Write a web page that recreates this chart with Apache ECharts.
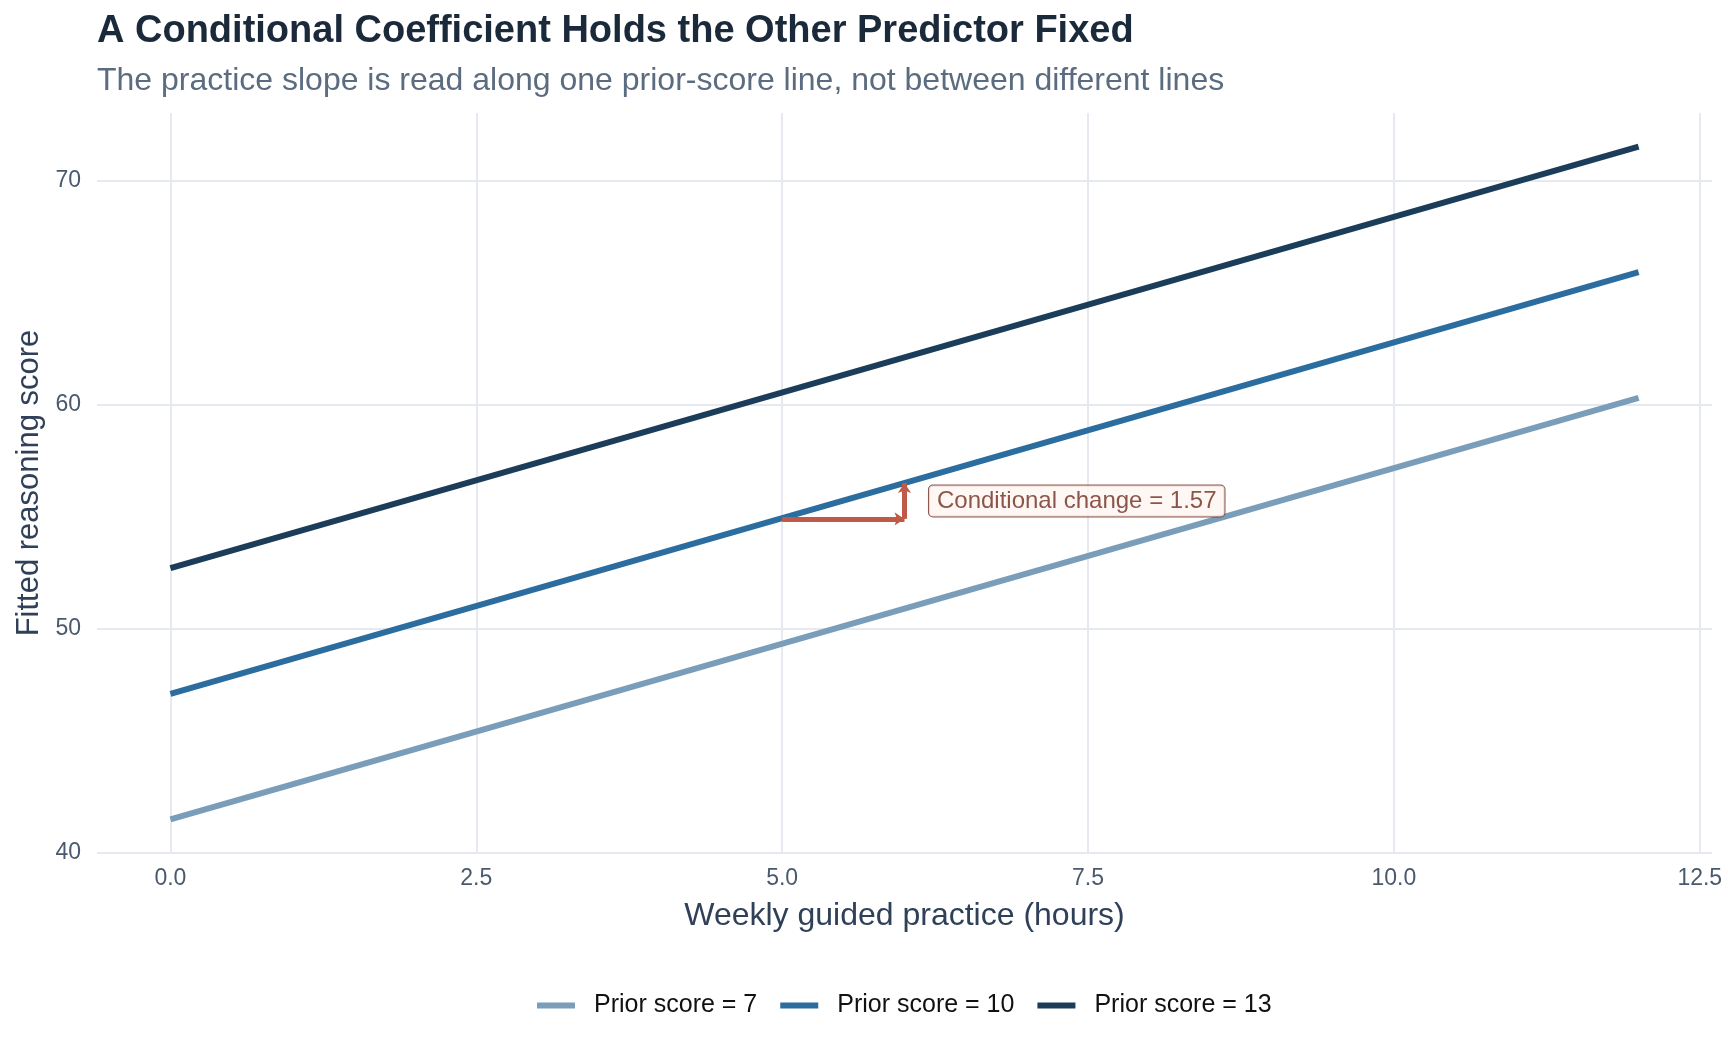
<!DOCTYPE html>
<html>
<head>
<meta charset="utf-8">
<title>Conditional coefficient</title>
<script src="https://cdn.jsdelivr.net/npm/echarts@6/dist/echarts.min.js"></script>
<style>
  html, body { margin: 0; padding: 0; background: #fff; }
  #chart { width: 1728px; height: 1056px; }
</style>
</head>
<body>
<div id="chart"></div>
<script>
// fitted lines at practice = 0 and 12 hours
var practiceHours = [0, 12];
var priorLabels = ['Prior score = 7', 'Prior score = 10', 'Prior score = 13'];
var fitPrior7 = [41.5, 60.3];
var fitPrior10 = [47.1, 65.9];
var fitPrior13 = [52.7, 71.5];
var lineColors = ['#7a9eb9', '#2c6d9f', '#1b3d5a'];

// tick labels
var xTicks = [0, 2.5, 5, 7.5, 10, 12.5];
var yTicks = [40, 50, 60, 70];

// the conditional change annotation (one hour more, along prior = 10)
var stepX = [5, 6];
var stepY = [54.9, 56.5];
var annotText = 'Conditional change = 1.57';
var annotAt = [6.2, 55.7];

var font = '"Liberation Sans", Arial, Helvetica, sans-serif';

function pairs(xs, ys) {
  return xs.map(function (x, i) { return [x, ys[i]]; });
}

var fits = [fitPrior7, fitPrior10, fitPrior13];
var series = fits.map(function (vals, i) {
  return {
    name: priorLabels[i],
    type: 'line',
    data: pairs(practiceHours, vals),
    showSymbol: false,
    lineStyle: { color: lineColors[i], width: 6, cap: 'butt' },
    itemStyle: { color: lineColors[i] },
    z: 2
  };
});

// arrows: horizontal step then vertical rise
series.push({
  name: 'step',
  type: 'line',
  data: [],
  markLine: {
    silent: true,
    symbol: ['none', 'arrow'],
    symbolSize: [10, 10],
    label: { show: false },
    lineStyle: { color: '#c05a48', width: 5, type: 'solid' },
    data: [
      [{ coord: [stepX[0], stepY[0]] }, { coord: [stepX[1], stepY[0]] }],
      [{ coord: [stepX[1], stepY[0]] }, { coord: [stepX[1], stepY[1]] }]
    ]
  },
  z: 5
});

series.push({
  name: 'note',
  type: 'scatter',
  data: [annotAt],
  symbolSize: 0,
  silent: true,
  label: {
    show: true,
    position: 'right',
    distance: 0,
    formatter: annotText,
    fontFamily: font,
    fontSize: 24,
    color: '#6e2c1f',
    backgroundColor: '#fff5f1',
    borderColor: '#6e2c1f',
    borderWidth: 1,
    borderRadius: 4,
    padding: [4, 8, 3, 8]
  },
  z: 6
});

var chart = echarts.init(document.getElementById('chart'));
chart.setOption({
  animation: false,
  backgroundColor: '#ffffff',
  title: [
    {
      text: 'A Conditional Coefficient Holds the Other Predictor Fixed',
      left: 97, top: 13, padding: 0,
      textStyle: { fontFamily: font, fontSize: 38, fontWeight: 'bold', color: '#1b2a3a' }
    },
    {
      text: 'The practice slope is read along one prior-score line, not between different lines',
      left: 97, top: 65, padding: 0,
      textStyle: { fontFamily: font, fontSize: 32, fontWeight: 'normal', color: '#5b6b80' }
    }
  ],
  legend: {
    data: priorLabels,
    left: 532,
    top: 988,
    icon: 'rect',
    itemWidth: 38,
    itemHeight: 6,
    itemGap: 23,
    textStyle: { fontFamily: font, fontSize: 25, color: '#111111', padding: [0, 0, 0, 14] }
  },
  grid: { left: 97, right: 16, top: 113, bottom: 203, containLabel: false },
  xAxis: {
    type: 'value',
    min: -0.6,
    max: 12.6,
    name: 'Weekly guided practice (hours)',
    nameLocation: 'middle',
    nameGap: 47,
    nameTextStyle: { fontFamily: font, fontSize: 32, color: '#2f4058' },
    axisLine: { show: false },
    axisTick: { show: false, customValues: xTicks },
    axisLabel: {
      customValues: xTicks,
      margin: 14,
      fontFamily: font, fontSize: 23, color: '#4a5a6e',
      formatter: function (v) { return v.toFixed(1); }
    },
    splitLine: { show: true, lineStyle: { color: '#e6eaf0', width: 2 } }
  },
  yAxis: {
    type: 'value',
    min: 40,
    max: 73,
    name: 'Fitted reasoning score',
    nameLocation: 'middle',
    nameGap: 52,
    nameTextStyle: { fontFamily: font, fontSize: 31, color: '#2f4058' },
    axisLine: { show: false },
    axisTick: { show: false, customValues: yTicks },
    axisLabel: {
      customValues: yTicks,
      margin: 16,
      fontFamily: font, fontSize: 23, color: '#4a5a6e'
    },
    splitLine: { show: true, lineStyle: { color: '#e6eaf0', width: 2 } }
  },
  series: series
});
</script>
</body>
</html>
